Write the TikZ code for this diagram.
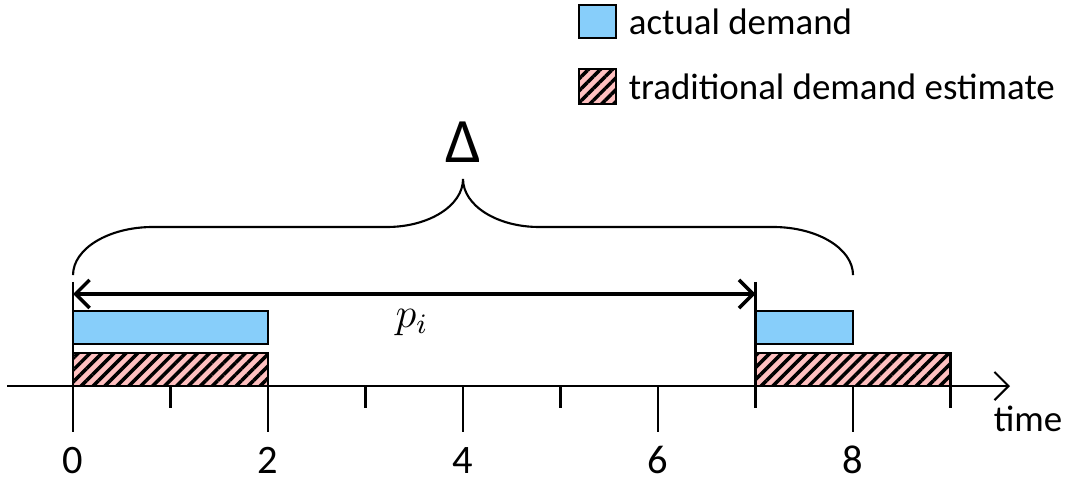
\documentclass[tikz,border=0pt]{standalone}
\usepackage{fontspec}
\setmainfont{Carlito}
\usepackage{tikz}
\usetikzlibrary{arrows.meta,patterns.meta}
\definecolor{demandblue}{RGB}{135,206,250}
\definecolor{estimatepink}{RGB}{255,192,192}

\begin{document}
\begin{tikzpicture}[x=0.975cm, y=0.975cm, line width=0.6pt,
        >={Straight Barb[length=4pt,width=8pt]},
        every node/.style={font=\fontsize{10.5}{12}\selectfont},
        ticklabel/.style={font=\fontsize{11.5}{13}\selectfont},
        actual/.style={draw, fill=demandblue},
        estimate/.style={draw, preaction={fill=estimatepink},
            pattern={Lines[angle=45,distance=2.4pt,line width=1pt]}}]
        \useasboundingbox (-0.749,-0.954) rectangle (10.256,3.959);
        \coordinate (axisL) at (-0.677,0);
        \coordinate (axisR) at (9.61,0);
        \draw[->] (axisL) -- (axisR);
        \node (timelab) at (9.795,-0.338) {time};
        \foreach \t in {1,3,5,9} \draw (\t,0) -- (\t,-0.226);
        \foreach \t in {2,4,6,8} {
            \draw (\t,0) -- (\t,-0.472);
            \node[ticklabel] (lab\t) at (\t,-0.759) {\t};
        }
        \node[ticklabel] (lab0) at (0,-0.759) {0};
        \draw (0,1.067) -- (0,-0.472);
        \draw (7,1.067) -- (7,-0.226);
        \draw[estimate] (0,0) rectangle (2,0.338);
        \draw[estimate] (7,0) rectangle (9,0.338);
        \draw[actual] (0,0.431) rectangle (2,0.769);
        \draw[actual] (7,0.431) rectangle (8,0.769);
        \coordinate (pstart) at (0,0.944);
        \coordinate (pend) at (7,0.944);
        \draw[<->, line width=1pt] (pstart) -- (pend);
        \node (period) at (3.477,0.656) {\fontsize{12}{14}\selectfont$p_i$};
        \draw (0,1.138) .. controls (0,1.41) and (0.367,1.631) .. (0.82,1.631)
            -- (3.22,1.631) .. controls (3.65,1.631) and (4,1.851) .. (4,2.123)
            .. controls (4,1.851) and (4.35,1.631) .. (4.78,1.631)
            -- (7.18,1.631) .. controls (7.633,1.631) and (8,1.41) .. (8,1.138);
        \node (delta) at (4,2.503) {\fontsize{18}{20}\selectfont Δ};
        \draw[actual] (5.19,3.569) rectangle (5.569,3.908);
        \node[right] (actlab) at (5.57,3.739) {actual demand};
        \draw[estimate] (5.19,2.892) rectangle (5.569,3.251);
        \node[right] (estlab) at (5.57,3.072) {traditional demand estimate};
    \end{tikzpicture}
\end{document}
